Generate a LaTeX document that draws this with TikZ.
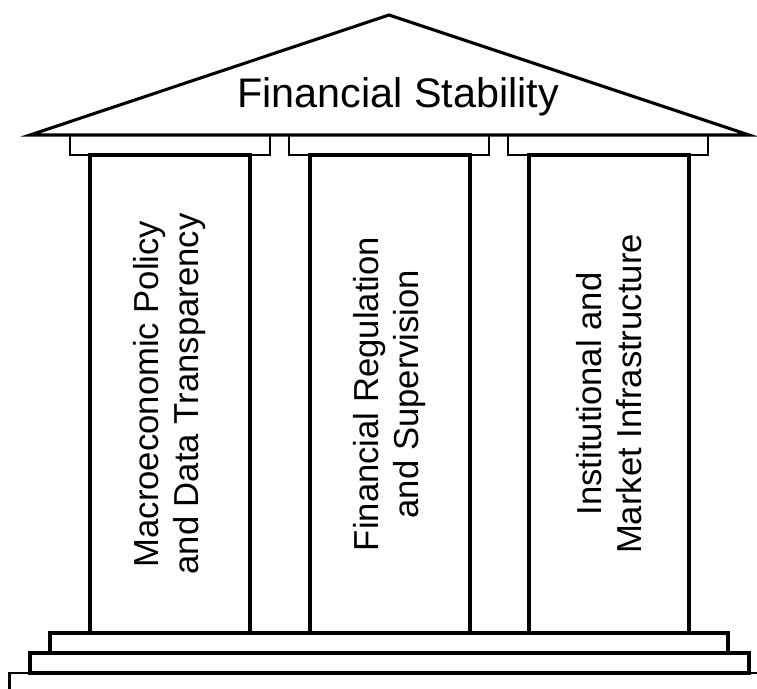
\documentclass[tikz,border=0pt]{standalone}
\usepackage{fontspec}
\setmainfont{Liberation Sans}
\usepackage{xcolor}
\usepackage{tikz}

\begin{document}
\begin{tikzpicture}[x=0.75pt,y=0.75pt,yscale=-1,xscale=1,
  pillar/.style={draw, line width=2.7, rotate=90, minimum width=358.5pt, minimum height=120pt,
    inner sep=0pt, align=center, font=\fontsize{26}{30}\selectfont},
  capital/.style={line width=1.9},
  stair/.style={line width=2.3}]
\path [use as bounding box] (0,0) rectangle (757,689); %set diagram size 757 x 689

%Shape: Triangle [roof]
\draw [line width=2.3] (30,135) -- (389,15) -- (749,135) -- cycle ;

%Shape: Rectangle [capitals]
\draw [capital] (70,135) rectangle (270,155) ;
\draw [capital] (289,135) rectangle (489,155) ;
\draw [capital] (508,135) rectangle (708,155) ;

%Shape: Rectangle [steps]
\draw [stair] (50,633) rectangle (728,653) ;
\draw [stair] (30,653) rectangle (749,673) ;
%Straight Lines [ground]
\draw [line width=1.9] (9.5,689) -- (9.5,673) -- (757,673) ;

% Pillars
\node [pillar] (macro) at (170,394) {Macroeconomic Policy\\and Data Transparency};
\node [pillar] (regul) at (390,394) {Financial Regulation\\and Supervision};
\node [pillar] (infra) at (609,394) {Institutional and\\Market Infrastructure};

% Text Node
\node [anchor=base, inner sep=0pt, font=\fontsize{31}{36}\selectfont] (stab) at (398,107) {Financial Stability};

\end{tikzpicture}
\end{document}
